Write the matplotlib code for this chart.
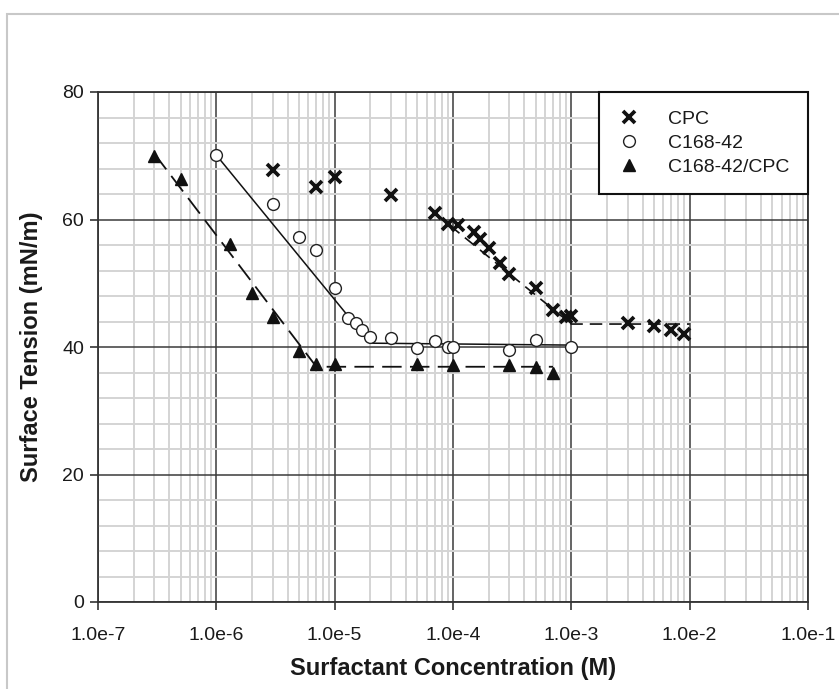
import matplotlib
matplotlib.use("Agg")
import matplotlib.pyplot as plt
from matplotlib.ticker import FixedLocator, FuncFormatter, MultipleLocator, LogLocator, NullFormatter
from matplotlib.patches import Rectangle
import numpy as np

# surface tension (mN/m) vs surfactant concentration (M)
cpc_conc = [3e-6, 7e-6, 1e-5, 3e-5, 7e-5, 9e-5, 1.1e-4, 1.5e-4, 1.7e-4, 2e-4,
            2.5e-4, 3e-4, 5e-4, 7e-4, 9e-4, 1e-3, 3e-3, 5e-3, 7e-3, 9e-3]
cpc_tension = [67.7, 65.1, 66.7, 63.9, 61.0, 59.3, 59.1, 58.1, 56.9, 55.5,
               53.1, 51.4, 49.3, 45.8, 44.7, 44.8, 43.7, 43.3, 42.6, 42.1]

c168_conc = [1e-6, 3e-6, 5e-6, 7e-6, 1e-5, 1.3e-5, 1.5e-5, 1.7e-5, 2e-5, 3e-5,
             5e-5, 7e-5, 9e-5, 1e-4, 3e-4, 5e-4, 1e-3]
c168_tension = [70.1, 62.4, 57.3, 55.2, 49.3, 44.6, 43.7, 42.7, 41.5, 41.4,
                39.8, 40.9, 40.0, 40.0, 39.5, 41.1, 40.0]

mix_conc = [3e-7, 5e-7, 1.3e-6, 2e-6, 3e-6, 5e-6, 7e-6, 1e-5, 5e-5, 1e-4,
            3e-4, 5e-4, 7e-4]
mix_tension = [69.9, 66.3, 56.2, 48.4, 44.7, 39.4, 37.3, 37.3, 37.3, 37.2,
               37.2, 36.9, 36.0]

# trend lines (break points)
cpc_fit_x = [7e-5, 1e-3, 1e-2]
cpc_fit_y = [61.0, 43.6, 43.6]
c168_fit_x = [1e-6, 2e-5, 1e-3]
c168_fit_y = [70.1, 40.6, 40.3]
mix_fit_x = [3e-7, 7e-6, 7e-4]
mix_fit_y = [70.3, 36.9, 36.9]

x_ticks = [1e-7, 1e-6, 1e-5, 1e-4, 1e-3, 1e-2, 1e-1]
y_ticks = [0, 20, 40, 60, 80]

plt.rcParams['font.family'] = ['Liberation Sans', 'DejaVu Sans']
plt.rcParams['lines.scale_dashes'] = False
txt = '#1a1a1a'

fig = plt.figure(figsize=(8.39, 6.89), dpi=100)
ax = fig.add_axes([98/839, 87/689, 710/839, 510/689])

# light gray frame round the whole chart
fig.patches.append(Rectangle((7/839, -0.2), 1.2, 0.2 + (689-14)/689, transform=fig.transFigure,
                             fill=False, edgecolor='#c8c8c8', linewidth=1.5, clip_on=False))

ax.set_xscale('log')
ax.set_xlim(1e-7, 1e-1)
ax.set_ylim(0, 80)

ax.xaxis.set_major_locator(FixedLocator(x_ticks))
ax.xaxis.set_minor_locator(LogLocator(base=10, subs=np.arange(2, 10)))
ax.xaxis.set_minor_formatter(NullFormatter())

def sci_fmt(v, pos):
    e = int(round(np.log10(v)))
    return '1.0e%d' % e

ax.xaxis.set_major_formatter(FuncFormatter(sci_fmt))
ax.yaxis.set_major_locator(FixedLocator(y_ticks))
ax.yaxis.set_minor_locator(MultipleLocator(4))

ax.grid(which='minor', color='#d4d4d4', linewidth=1.4, zorder=0)
ax.grid(which='major', color='#3a3a3a', linewidth=1.1, zorder=0)
ax.set_axisbelow(True)

ax.tick_params(which='major', direction='out', length=6, width=1.2, color='#333333',
               labelsize=14, labelcolor=txt, pad=4)
ax.tick_params(which='minor', length=0)
ax.tick_params(axis='x', pad=12)
for s in ax.spines.values():
    s.set_color('#333333')
    s.set_linewidth(1.3)

# trend lines
ax.plot(cpc_fit_x, cpc_fit_y, color='#111111', linewidth=1.2, dashes=(9, 5), zorder=2)
ax.plot(c168_fit_x, c168_fit_y, color='#111111', linewidth=1.1, linestyle='-', zorder=2)
ax.plot(mix_fit_x, mix_fit_y, color='#111111', linewidth=1.3, dashes=(14, 6), zorder=2)

# data points
ax.plot(cpc_conc, cpc_tension, linestyle='none', marker='x', markersize=8.5, markeredgewidth=2.7,
        color='#111111', label='CPC', zorder=3)
ax.plot(c168_conc, c168_tension, linestyle='none', marker='o', markersize=8.5, markeredgewidth=1.0,
        markerfacecolor='white', markeredgecolor='#222222', label='C168-42', zorder=3)
ax.plot(mix_conc, mix_tension, linestyle='none', marker='^', markersize=8.5,
        color='#111111', label='C168-42/CPC', zorder=3)

ax.set_xlabel('Surfactant Concentration (M)', fontsize=17, fontweight='bold', color=txt, labelpad=9)
ax.set_ylabel('Surface Tension (mN/m)', fontsize=17, fontweight='bold', color=txt, labelpad=14)

leg = ax.legend(loc='upper right', bbox_to_anchor=(1.0, 1.0), fontsize=14, frameon=True,
                fancybox=False, borderpad=0.95, handlelength=1.2, handletextpad=1.4,
                labelspacing=0.32, borderaxespad=0)
leg.get_frame().set_edgecolor('#111111')
leg.get_frame().set_linewidth(1.5)
leg.get_frame().set_alpha(1)
for t in leg.get_texts():
    t.set_color(txt)
leg.set_zorder(5)

fig.savefig('out.png', dpi=100, facecolor='white')
